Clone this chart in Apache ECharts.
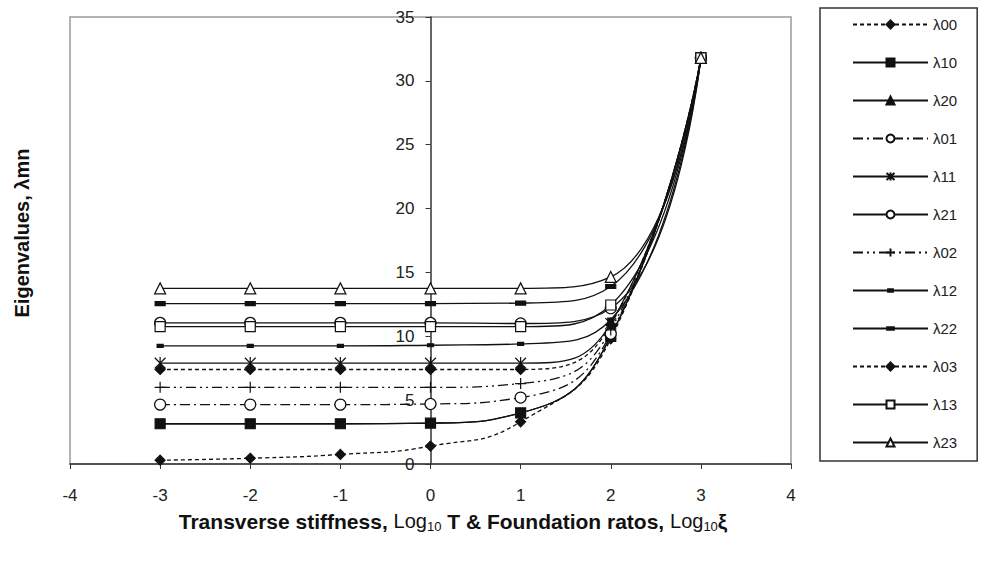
<!DOCTYPE html>
<html>
<head>
<meta charset="utf-8">
<script src="https://cdn.jsdelivr.net/npm/echarts@6/dist/echarts.min.js"></script>
<style>
html,body{margin:0;padding:0;background:#fff;}
#chart{width:992px;height:564px;}
</style>
</head>
<body>
<div id="chart"></div>
<script>
// ---- data ----
const xValues = [-3, -2, -1, 0, 1, 2, 3];
const xTicks = [-4, -3, -2, -1, 0, 1, 2, 3, 4];
const yTicks = [0, 5, 10, 15, 20, 25, 30, 35];
const seriesNames = ['λ00','λ10','λ20','λ01','λ11','λ21','λ02','λ12','λ22','λ03','λ13','λ23'];
const l00 = [0.3, 0.45, 0.75, 1.4, 3.3, 9.8, 31.8];
const l10 = [3.15, 3.15, 3.15, 3.2, 4.0, 10.0, 31.8];
const l20 = [3.15, 3.15, 3.15, 3.2, 4.0, 10.0, 31.8];
const l01 = [4.65, 4.65, 4.65, 4.7, 5.2, 10.2, 31.8];
const l11 = [7.9, 7.9, 7.9, 7.9, 7.9, 11.0, 31.8];
const l21 = [11.05, 11.05, 11.05, 11.05, 11.0, 12.2, 31.8];
const l02 = [6.0, 6.0, 6.0, 6.0, 6.3, 10.5, 31.8];
const l12 = [9.25, 9.25, 9.25, 9.3, 9.4, 11.3, 31.8];
const l22 = [12.55, 12.55, 12.55, 12.55, 12.6, 13.9, 31.8];
const l03 = [7.4, 7.4, 7.4, 7.4, 7.4, 10.9, 31.8];
const l13 = [10.75, 10.75, 10.75, 10.75, 10.75, 12.45, 31.8];
const l23 = [13.75, 13.75, 13.75, 13.75, 13.75, 14.65, 31.8];
const seriesValues = [l00, l10, l20, l01, l11, l21, l02, l12, l22, l03, l13, l23];

// ---- styles ----
const INK = '#111';
const starPath = 'path://M0,-10L0,10M-9,-9L9,9M-9,9L9,-9';
const plusPath = 'path://M0,-10L0,10M-10,0L10,0';
// bars inside a square bounding box so they keep their shape in the legend too
const shortBar = 'path://M-5,-5M-3,-1.5L3,-1.5L3,1.5L-3,1.5ZM5,5';
const longBar = 'path://M-6,-6M-5,-2L5,-2L5,2L-5,2ZM6,6';
const styles = {
  'λ00': {dash: [4, 3], symbol: 'diamond', size: 10, fill: INK},
  'λ10': {dash: 'solid', symbol: 'rect', size: 10, fill: INK},
  'λ20': {dash: 'solid', symbol: 'triangle', size: 8, fill: INK, z: 1},
  'λ01': {dash: [10, 4, 2, 4], symbol: 'circle', size: 11, fill: '#fff'},
  'λ11': {dash: 'solid', symbol: starPath, size: 12, fill: 'none'},
  'λ21': {dash: 'solid', symbol: 'circle', size: 11, fill: '#fff'},
  'λ02': {dash: [10, 4, 2, 4, 2, 4], symbol: plusPath, size: 11, fill: 'none'},
  'λ12': {dash: 'solid', symbol: shortBar, size: 10, fill: INK},
  'λ22': {dash: 'solid', symbol: longBar, size: 12, fill: INK},
  'λ03': {dash: [4, 3], symbol: 'diamond', size: 10, fill: INK},
  'λ13': {dash: 'solid', symbol: 'rect', size: 10, fill: '#fff'},
  'λ23': {dash: 'solid', symbol: 'triangle', size: 11, fill: '#fff'}
};

const series = seriesNames.map((name, i) => {
  const st = styles[name];
  return {
    name: name,
    type: 'line',
    smooth: 0.5,
    z: st.z || 2,
    data: xValues.map((x, j) => [x, seriesValues[i][j]]),
    symbol: st.symbol,
    symbolSize: st.size,
    symbolKeepAspect: true,
    showAllSymbol: true,
    lineStyle: {color: INK, width: 1.3, type: st.dash},
    itemStyle: {color: st.fill, borderColor: INK, borderWidth: 1.2},
    emphasis: {disabled: true}
  };
});

const chart = echarts.init(document.getElementById('chart'), null, {renderer: 'svg'});
chart.setOption({
  animation: false,
  backgroundColor: '#fff',
  grid: {
    left: 70, right: 201, top: 17, bottom: 100,
    show: true, borderColor: '#9a9a9a', borderWidth: 1.5, backgroundColor: 'transparent'
  },
  xAxis: {
    type: 'value',
    min: xTicks[0], max: xTicks[xTicks.length - 1], interval: 1,
    axisLine: {onZero: true, lineStyle: {color: '#333', width: 1.5}},
    axisTick: {show: true, length: 5, lineStyle: {color: '#333'}},
    splitLine: {show: false},
    axisLabel: {color: '#222', fontSize: 17, fontFamily: 'Liberation Sans, Arial', margin: 23}
  },
  yAxis: {
    type: 'value',
    min: yTicks[0], max: yTicks[yTicks.length - 1], interval: 5,
    offset: -360.5,
    axisLine: {show: true, onZero: false, lineStyle: {color: '#333', width: 1.5}},
    axisTick: {show: true, length: 5, lineStyle: {color: '#333'}},
    splitLine: {show: false},
    axisLabel: {color: '#222', fontSize: 17, fontFamily: 'Liberation Sans, Arial', margin: 16}
  },
  legend: {
    data: seriesNames,
    orient: 'vertical',
    left: 820, top: 8,
    padding: [9, 20, 11, 32],
    itemWidth: 75, itemHeight: 10, itemGap: 23,
    borderColor: '#333', borderWidth: 1.5,
    backgroundColor: '#fff',
    textStyle: {color: '#222', fontSize: 15, fontFamily: 'Liberation Sans, Arial'},
    selectedMode: false
  },
  graphic: [
    {
      type: 'text',
      x: 22, y: 233,
      rotation: Math.PI / 2,
      style: {
        text: 'Eigenvalues, λmn',
        font: 'bold 20px "Liberation Sans", Arial',
        fill: '#111',
        align: 'center',
        verticalAlign: 'middle'
      }
    },
    {
      type: 'text',
      x: 453, y: 521,
      style: {
        text: '{b|Transverse stiffness, }{n|Log}{s|10}{b| T & Foundation ratos, }{n|Log}{s|10}{b|ξ}',
        align: 'center',
        verticalAlign: 'middle',
        rich: {
          b: {font: 'bold 21px "Liberation Sans", Arial', fill: '#111'},
          n: {font: '20px "Liberation Sans", Arial', fill: '#111'},
          s: {font: '13px "Liberation Sans", Arial', fill: '#111', padding: [10, 0, 0, 0]}
        }
      }
    }
  ],
  series: series
});
</script>
</body>
</html>
